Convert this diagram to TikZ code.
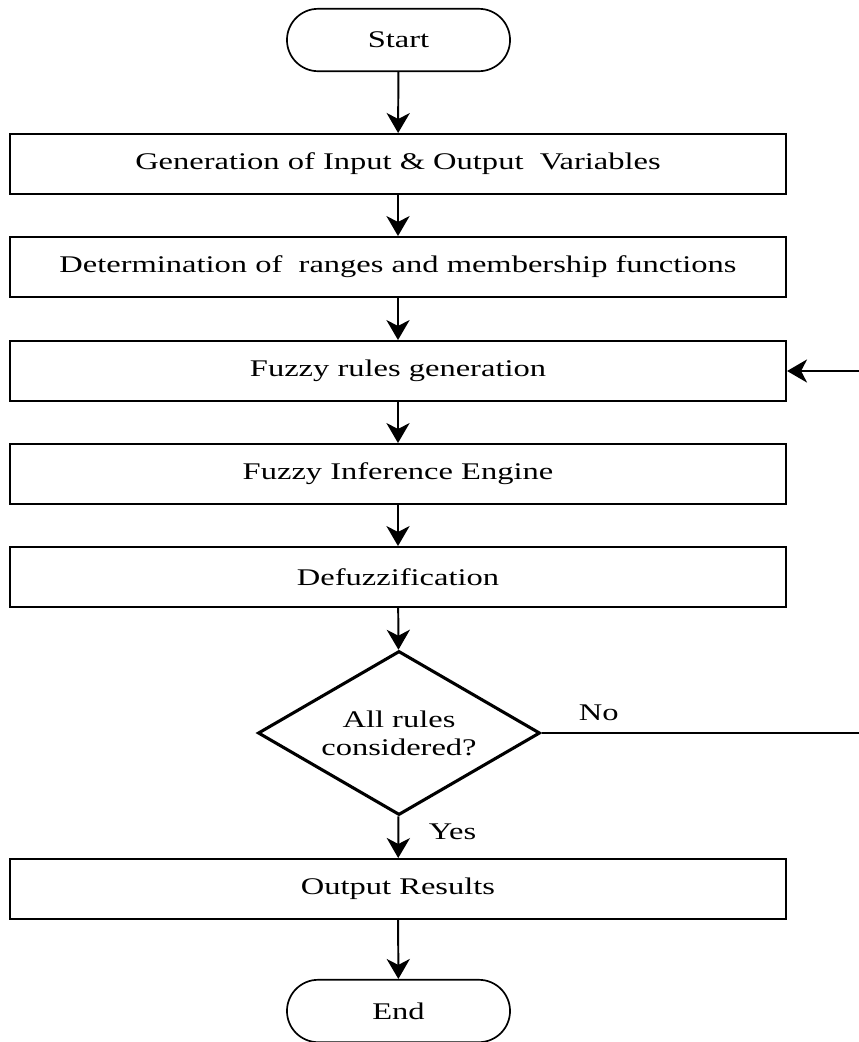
\documentclass[tikz,border=0pt]{standalone}
\usepackage{fontspec}
\setmainfont{Liberation Serif}[FakeStretch=1.36]
\usetikzlibrary{arrows.meta,shapes.geometric}

\begin{document}
\begin{tikzpicture}[x=0.025cm,y=-0.025cm,
  every node/.style={font=\fontsize{17}{20}\selectfont},
  box/.style={draw,line width=1.4pt,minimum width=19.4cm,minimum height=1.5cm},
  term/.style={draw,line width=1.2pt,rounded corners=0.78cm,minimum width=5.575cm,minimum height=1.56cm},
  decision/.style={diamond,draw,line width=2.2pt,aspect=1.7,minimum width=7.05cm,minimum height=4.1cm,inner sep=0pt,align=center},
  arr/.style={line width=1.4pt,-{Stealth[length=0.5cm,width=0.58cm,inset=0.15cm]}}]
\useasboundingbox (0,0) rectangle (859,1042);

\node[term] (start) at (398.5,40) {Start};
\node[box] (gen) at (398,164) {Generation of Input \& Output~ Variables};
\node[box] (ranges) at (398,267) {Determination of~ ranges and membership functions};
\node[box] (rules) at (398,371) {Fuzzy rules generation};
\node[box] (fie) at (398,474) {Fuzzy Inference Engine};
\node[box] (defuz) at (398,577) {Defuzzification};
\node[decision] (check) at (399,733) {All rules\\considered?};
\node[box] (out) at (398,889) {Output Results};
\node[term] (end) at (398.5,1011) {End};

\coordinate (noend) at (859,733);
\coordinate (back) at (859,371);

\draw[arr] (start) -- (gen);
\draw[arr] (gen) -- (ranges);
\draw[arr] (ranges) -- (rules);
\draw[arr] (rules) -- (fie);
\draw[arr] (fie) -- (defuz);
\draw[arr] (defuz) -- (check);
\draw[arr] (check) -- node[right=0.62cm,pos=0.37] (yes) {Yes} (out);
\draw[arr] (out) -- (end);
\draw[line width=1pt] (check.east) -- node[above=5pt,pos=0.18] (no) {No} (noend);
\draw[arr,line width=1pt] (back) -- (rules.east);
\end{tikzpicture}
\end{document}
